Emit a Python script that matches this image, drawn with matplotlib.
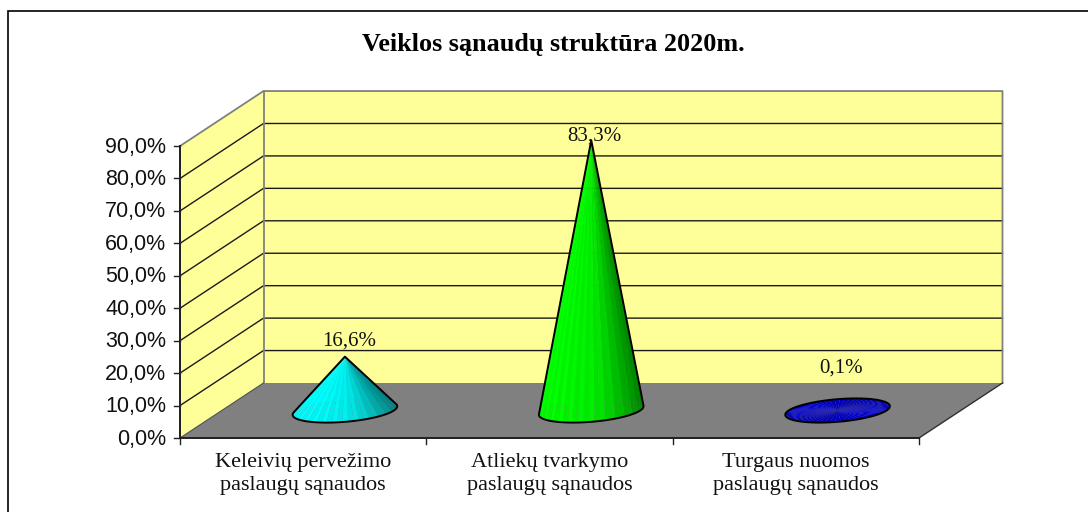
import numpy as np
import matplotlib
matplotlib.use("Agg")
import matplotlib.pyplot as plt
from matplotlib.patches import Polygon

categories = ["Keleivių pervežimo\npaslaugų sąnaudos", "Atliekų tvarkymo\npaslaugų sąnaudos", "Turgaus nuomos\npaslaugų sąnaudos"]
values = [16.6, 83.3, 0.1]
value_labels = ["16,6%", "83,3%", "0,1%"]
y_ticks = [0, 10, 20, 30, 40, 50, 60, 70, 80, 90]
y_tick_labels = ["0,0%", "10,0%", "20,0%", "30,0%", "40,0%", "50,0%", "60,0%", "70,0%", "80,0%", "90,0%"]
title = "Veiklos sąnaudų struktūra 2020m."
cone_colors = [(0, 1, 1), (0, 1, 0), (0, 0, 0.85)]

W, H = 1088, 512
X0, Y0, PX_X, PX_Y = 180, 438, 246.33, 3.244
DX, DY = 83.5 / PX_X, 55 / PX_Y   # oblique depth offset in data units
SERIF, SANS = "Liberation Serif", "Liberation Sans"
GRID, WALL_EDGE = "#1a1a1a", "#808080"

fig = plt.figure(figsize=(W / 100, H / 100), dpi=100, facecolor="white")
ax = fig.add_axes([0, 0, 1, 1])
ax.set_xlim(-X0 / PX_X, (W - X0) / PX_X)
ax.set_ylim((Y0 - H) / PX_Y, Y0 / PX_Y)
ax.axis("off")

def P(x, v, d=0.0):
    return (x + d * DX, v + d * DY)

nx, vmax = len(categories), y_ticks[-1]
fx = lambda px: (px - X0) / PX_X
fy = lambda py: (Y0 - py) / PX_Y

# outer frame: only top and left edges are inside the crop
ax.plot([fx(7.5), fx(7.5), fx(1088)], [fy(512), fy(10.5), fy(10.5)], color="black", lw=1.2, zorder=0,
        solid_joinstyle="miter")

# walls and floor
ax.add_patch(Polygon([P(0, 0), P(0, vmax), P(0, vmax, 1), P(0, 0, 1)], fc="#FFFF99", ec="none", zorder=1))
ax.add_patch(Polygon([P(0, 0, 1), P(0, vmax, 1), P(nx, vmax, 1), P(nx, 0, 1)], fc="#FFFF99", ec="none", zorder=1))
ax.add_patch(Polygon([P(0, 0), P(nx, 0), P(nx, 0, 1), P(0, 0, 1)], fc="#808080", ec="none", zorder=2))
for v in y_ticks[1:-1]:
    ax.plot(*zip(P(0, v), P(0, v, 1), P(nx, v, 1)), color=GRID, lw=1.0, zorder=1.5, solid_joinstyle="miter")
ax.plot(*zip(P(0, 0), P(0, vmax), P(0, vmax, 1), P(nx, vmax, 1), P(nx, 0, 1)), color=WALL_EDGE, lw=1.3, zorder=2.5)
ax.plot(*zip(P(0, 0, 1), P(0, vmax, 1)), color=WALL_EDGE, lw=1.3, zorder=2.5)
ax.plot(*zip(P(nx, 0, 1), P(nx, 0)), color="#303030", lw=1.0, zorder=2.5)
ax.plot(*zip(P(0, 0, 1), P(0, 0)), color="#505050", lw=0.8, zorder=2.5)

# axes
ax.plot(*zip(P(0, vmax), P(0, 0), P(nx, 0)), color="#202020", lw=1.4, zorder=3)
for v, lab in zip(y_ticks, y_tick_labels):
    ax.plot([fx(174), 0], [v, v], color="#202020", lw=1.0, zorder=3)
    ax.text(fx(166.5), v - 1 / PX_Y, lab, ha="right", va="center", family=SANS, fontsize=15.5, color="#111111")
for i in range(nx + 1):
    ax.plot([i, i], [0, fy(444)], color="#202020", lw=1.0, zorder=3)
for i, lab in enumerate(categories):
    ax.text(i + 0.5, fy(474), lab, ha="center", va="center", family=SERIF, fontsize=16, linespacing=1.3, color="#111111")

def hull(pts):
    pts = sorted(map(tuple, pts))
    def half(seq):
        out = []
        for p in seq:
            while len(out) > 1 and (out[-1][0] - out[-2][0]) * (p[1] - out[-2][1]) - (out[-1][1] - out[-2][1]) * (p[0] - out[-2][0]) <= 0:
                out.pop()
            out.append(p)
        return out[:-1]
    return half(pts) + half(pts[::-1])

# cones: round base lying on the oblique floor, apex at the value
RX, RD = 49 / PX_X, 0.22
t = np.linspace(0, 2 * np.pi, 61)[:-1]
label_px = [(349, 341), (594, 136), (841, 368)]
for i, (val, col, lab) in enumerate(zip(values, cone_colors, value_labels)):
    cx, cy = P(i + 0.5, 0, 0.5)
    bx = cx + RX * np.cos(t) + RD * DX * np.sin(t)
    by = cy + RD * DY * np.sin(t)
    tipx, tipy = cx, cy + val
    span = np.hypot(RX, RD * DX)
    for k in np.argsort(-by):  # back facets first
        j = (k + 1) % len(t)
        u = (0.5 * (bx[k] + bx[j]) - cx) / span
        if val < 1:  # flat disc
            shade = 0.92 + 0.08 * np.cos(2 * t[k] + 0.5) + 0.05 * (-1) ** k
        else:
            shade = 1.0 - 0.08 * (u + 1) if u < 0 else 0.92 - 0.42 * u ** 1.4
            shade *= 1 + 0.025 * (-1) ** k
        ax.add_patch(Polygon([(tipx, tipy), (bx[k], by[k]), (bx[j], by[j])],
                             fc=tuple(min(1, c * shade) for c in col), ec="none", zorder=4))
    ax.add_patch(Polygon(hull(np.column_stack([np.r_[bx, tipx], np.r_[by, tipy]])), fill=False,
                         ec="black", lw=1.4, zorder=5, joinstyle="round"))
    ax.text(fx(label_px[i][0]), fy(label_px[i][1]), lab, ha="center", va="center", family=SERIF,
            fontsize=15, color="#111111", zorder=6)

ax.text(fx(553), fy(44), title, ha="center", va="center", family=SERIF, fontweight="bold", fontsize=18.8, color="black")
fig.savefig("out.png", dpi=100)
